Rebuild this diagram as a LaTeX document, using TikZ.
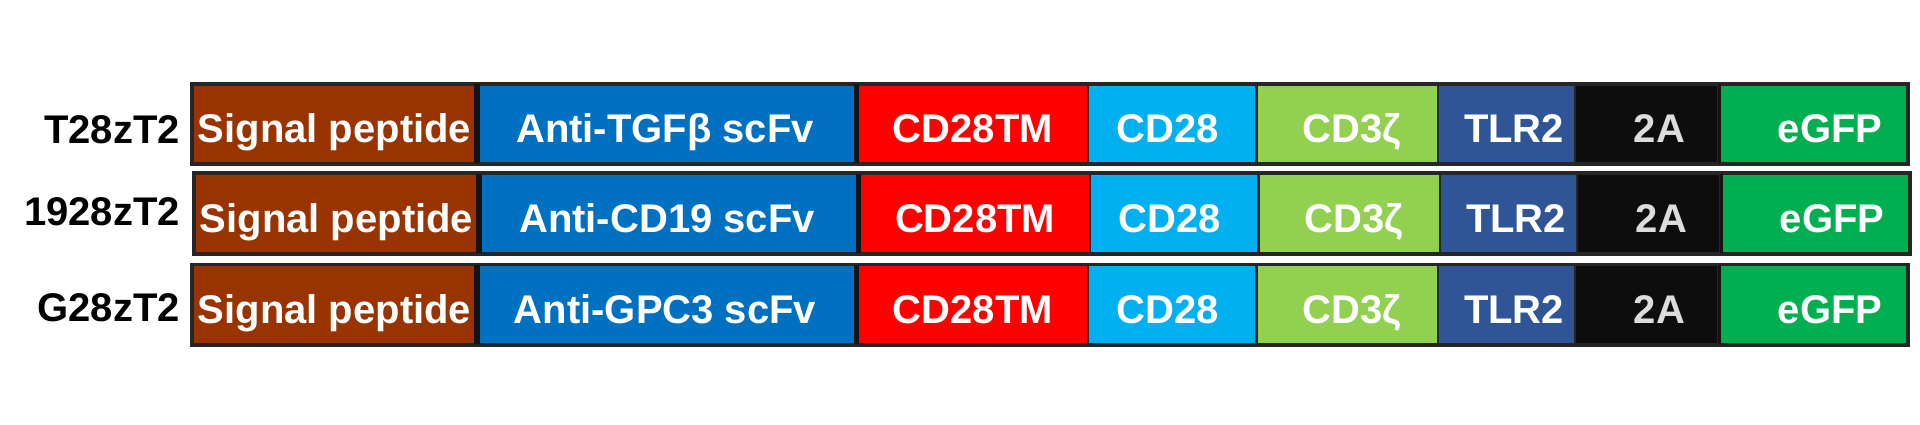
\documentclass[tikz,border=0pt]{standalone}
\usepackage{fontspec}
\setmainfont{Liberation Sans}
\usetikzlibrary{fit}
\definecolor{cSP}{HTML}{993300}
\definecolor{cScfv}{HTML}{0070C0}
\definecolor{cTM}{HTML}{FF0000}
\definecolor{cCD}{HTML}{00B0F0}
\definecolor{cZeta}{HTML}{92D050}
\definecolor{cTLR}{HTML}{2F5597}
\definecolor{cTwoA}{HTML}{0D0D0D}
\definecolor{cGFP}{HTML}{00B050}
\definecolor{cTxtA}{HTML}{DCDCDC}
\newcommand\cararow[4]{% #1 id, #2 top, #3 xshift, #4 scFv text
\begin{scope}[xshift=#3pt]
\foreach \a/\b/\c/\n in {192.5/475.5/cSP/sp, 475.5/855/cScfv/scfv, 855/1088/cTM/tm, 1088/1256.5/cCD/cd, 1256.5/1438/cZeta/z, 1438/1575/cTLR/tlr, 1575/1718/cTwoA/ta, 1718/1907/cGFP/gfp}
  \node[segbox, fill=\c, fit={(\a,#2) (\b,{#2+79})}] (#1\n) {};
\draw[divider, line width=6pt] (#1sp.north east) -- (#1sp.south east);
\draw[divider, line width=4.5pt] (#1scfv.north east) -- (#1scfv.south east);
\draw[divider, line width=3pt] (#1ta.north east) -- (#1ta.south east);
\node[framebox, fit=(#1sp)(#1gfp)] (#1frame) {};
\node[segtext] (#1spt) at (334.5,{#2+58.5}) {Signal peptide};
\node[segtext] (#1scfvt) at (665,{#2+58.5}) {#4};
\node[segtext] (#1tmt) at (973,{#2+58.5}) {CD28TM};
\node[segtext] (#1cdt) at (1168,{#2+58.5}) {CD28};
\node[segtext] (#1zt) at (1352,{#2+58.5}) {CD3ζ};
\node[segtext] (#1tlrt) at (1514,{#2+58.5}) {TLR2};
\node[segtext, text=cTxtA] (#1tat) at (1659.5,{#2+58.5}) {2A};
\node[segtext] (#1gfpt) at (1830,{#2+58.5}) {eGFP};
\end{scope}}
\begin{document}
\begin{tikzpicture}[x=1pt,y=-1pt,
  segbox/.style={draw=black!85, line width=2.5pt, inner sep=0pt},
  divider/.style={draw=black!92},
  framebox/.style={draw=black!85, line width=2.5pt, inner sep=0pt},
  segtext/.style={anchor=base, inner sep=0pt, text=white, font=\fontsize{40}{40}\selectfont\bfseries},
  rowname/.style={anchor=base east, inner sep=0pt, text=black, font=\fontsize{40}{40}\selectfont\bfseries}]
\useasboundingbox (0,0) rectangle (1920,425);
\fill[white] (0,0) rectangle (1920,425);
\cararow{a}{84.3}{0}{Anti-TGFβ scFv}
\cararow{b}{174}{2}{Anti-CD19 scFv}
\cararow{c}{265}{0}{Anti-GPC3 scFv}
\node[rowname] (la) at (180,143.3) {T28zT2};
\node[rowname] (lb) at (180,225) {1928zT2};
\node[rowname] (lc) at (180,321.7) {G28zT2};
\end{tikzpicture}
\end{document}
